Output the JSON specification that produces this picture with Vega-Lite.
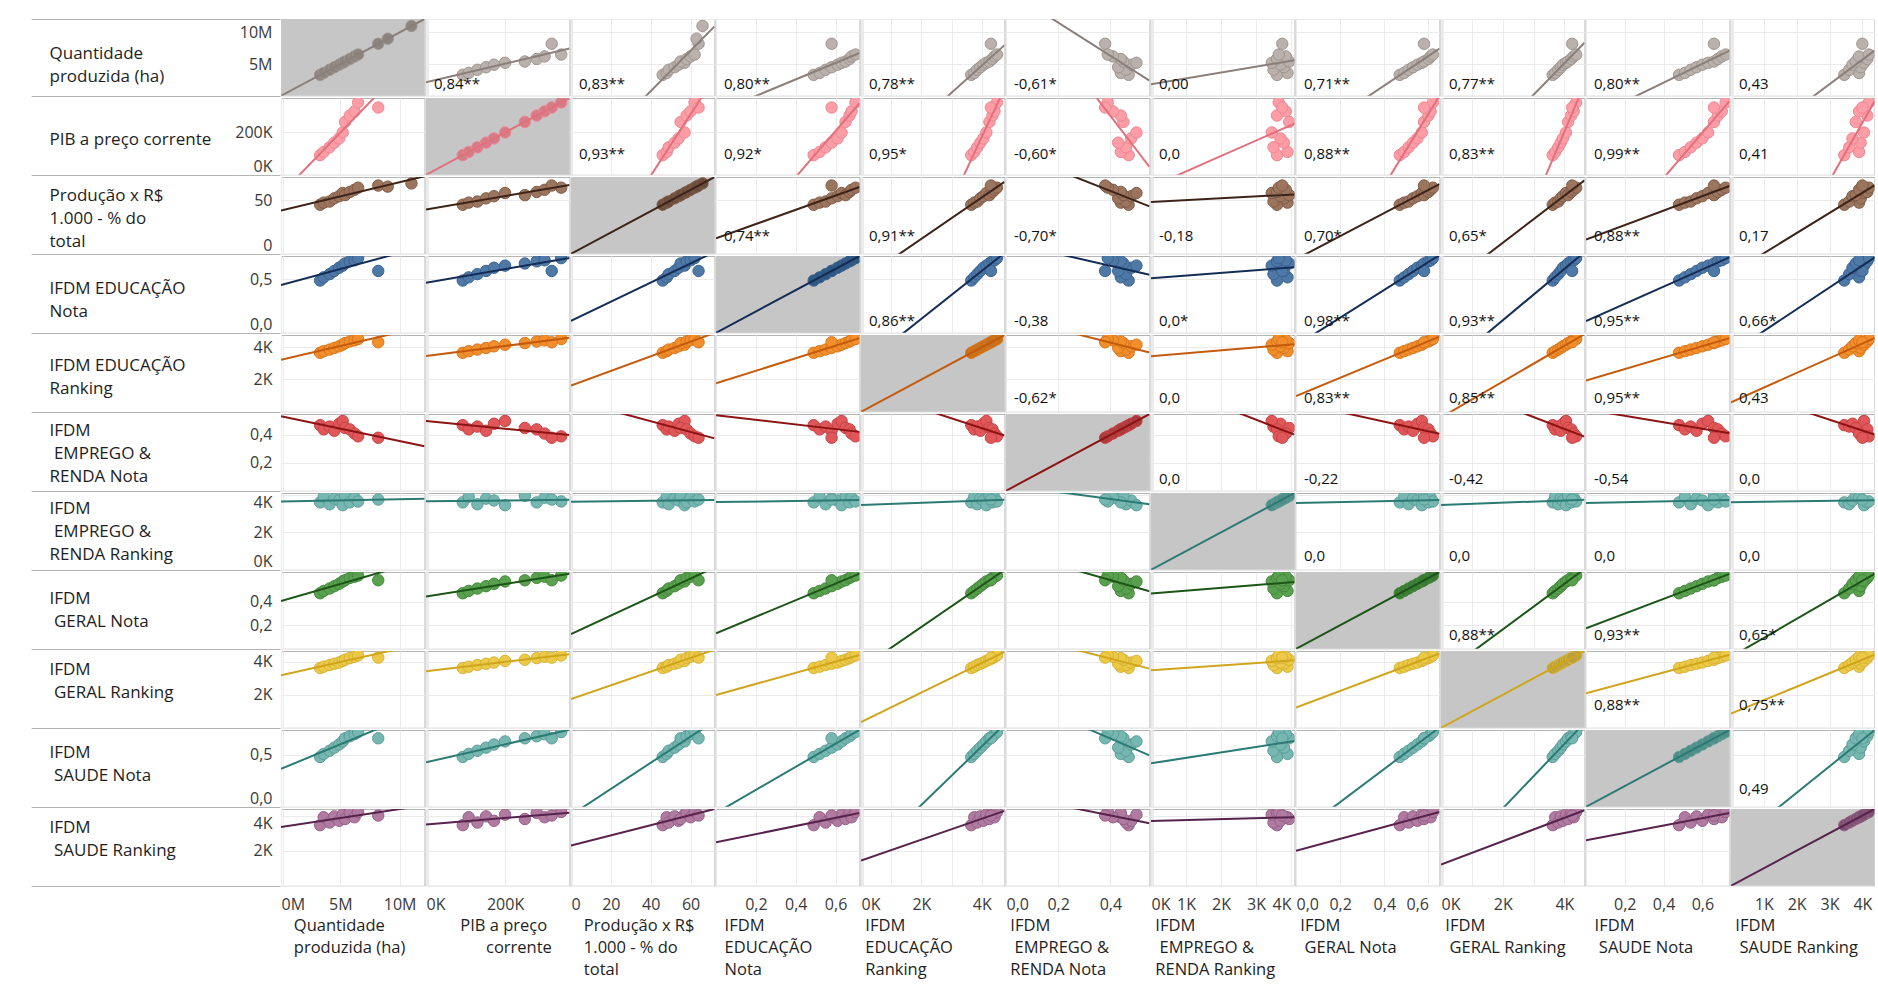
{
"$schema":"https://vega.github.io/schema/vega-lite/v6.json",
"background":"white",
"padding":{"left":30,"top":18,"right":0,"bottom":0},
"datasets":{
"d":[
{"Q":3300000,"PIB":93000,"PR":46,"EN":0.49,"ER":3650,"MN":0.47,"MR":3600,"GN":0.47,"GR":3620,"SN":0.48,"SR":3450},
{"Q":3600000,"PIB":108000,"PR":48,"EN":0.52,"ER":3750,"MN":0.44,"MR":3900,"GN":0.49,"GR":3700,"SN":0.51,"SR":3900},
{"Q":4100000,"PIB":130000,"PR":49,"EN":0.55,"ER":3850,"MN":0.46,"MR":3500,"GN":0.51,"GR":3800,"SN":0.54,"SR":3600},
{"Q":4500000,"PIB":152000,"PR":52,"EN":0.58,"ER":3950,"MN":0.43,"MR":3800,"GN":0.53,"GR":3880,"SN":0.57,"SR":3950},
{"Q":4900000,"PIB":172000,"PR":54,"EN":0.61,"ER":4050,"MN":0.48,"MR":3700,"GN":0.55,"GR":3950,"SN":0.6,"SR":3700},
{"Q":5200000,"PIB":200000,"PR":57,"EN":0.63,"ER":4150,"MN":0.5,"MR":3450,"GN":0.57,"GR":4050,"SN":0.63,"SR":4050},
{"Q":5400000,"PIB":250000,"PR":55,"EN":0.65,"ER":4250,"MN":0.45,"MR":3950,"GN":0.58,"GR":4120,"SN":0.66,"SR":3800},
{"Q":5800000,"PIB":280000,"PR":58,"EN":0.67,"ER":4350,"MN":0.44,"MR":3600,"GN":0.6,"GR":4220,"SN":0.68,"SR":4150},
{"Q":6200000,"PIB":300000,"PR":60,"EN":0.68,"ER":4420,"MN":0.41,"MR":3850,"GN":0.61,"GR":4300,"SN":0.7,"SR":3900},
{"Q":6500000,"PIB":342000,"PR":62,"EN":0.7,"ER":4500,"MN":0.39,"MR":3650,"GN":0.62,"GR":4380,"SN":0.72,"SR":4200},
{"Q":8200000,"PIB":318000,"PR":64,"EN":0.58,"ER":4300,"MN":0.38,"MR":3750,"GN":0.58,"GR":4250,"SN":0.66,"SR":4000},
{"Q":9000000,"PR":63},
{"Q":11000000,"PR":66},
{"k":"lo","Q":0},{"k":"hi","Q":12100000},
{"k":"lo","PIB":0,"L_Q":"0,84**"},{"k":"hi","PIB":363000},
{"k":"lo","PR":0,"L_Q":"0,83**","L_PIB":"0,93**"},{"k":"hi","PR":72},
{"k":"lo","EN":0,"L_Q":"0,80**","L_PIB":"0,92*","L_PR":"0,74**"},{"k":"hi","EN":0.72},
{"k":"lo","ER":0,"L_Q":"0,78**","L_PIB":"0,95*","L_PR":"0,91**","L_EN":"0,86**"},{"k":"hi","ER":4750},
{"k":"lo","MN":0,"L_Q":"-0,61*","L_PIB":"-0,60*","L_PR":"-0,70*","L_EN":"-0,38","L_ER":"-0,62*"},{"k":"hi","MN":0.55},
{"k":"lo","MR":0,"L_Q":"0,00","L_PIB":"0,0","L_PR":"-0,18","L_EN":"0,0*","L_ER":"0,0","L_MN":"0,0"},{"k":"hi","MR":4100},
{"k":"lo","GN":0,"L_Q":"0,71**","L_PIB":"0,88**","L_PR":"0,70*","L_EN":"0,98**","L_ER":"0,83**","L_MN":"-0,22","L_MR":"0,0"},{"k":"hi","GN":0.65},
{"k":"lo","GR":0,"L_Q":"0,77**","L_PIB":"0,83**","L_PR":"0,65*","L_EN":"0,93**","L_ER":"0,85**","L_MN":"-0,42","L_MR":"0,0","L_GN":"0,88**"},{"k":"hi","GR":4650},
{"k":"lo","SN":0,"L_Q":"0,80**","L_PIB":"0,99**","L_PR":"0,88**","L_EN":"0,95**","L_ER":"0,95**","L_MN":"-0,54","L_MR":"0,0","L_GN":"0,93**","L_GR":"0,88**"},{"k":"hi","SN":0.74},
{"k":"lo","SR":0,"L_Q":"0,43","L_PIB":"0,41","L_PR":"0,17","L_EN":"0,66*","L_ER":"0,43","L_MN":"0,0","L_MR":"0,0","L_GN":"0,65*","L_GR":"0,75**","L_SN":"0,49"},{"k":"hi","SR":4370}
]
},
"spacing":0,
"vconcat":[
{"data":{"name":"d"},"transform":[{"fold":["Q","PIB","PR","EN","ER","MN","MR","GN","GR","SN","SR"],"as":["c","x"]}],
"facet":{"column":{"field":"c","type":"nominal","sort":["Q","PIB","PR","EN","ER","MN","MR","GN","GR","SN","SR"],"header":{"labels":false,"title":null}}},
"spacing":0,"resolve":{"scale":{"x":"independent"}},
"spec":{"width":143.5,"height":76.8,"layer":[
{"transform":[{"filter":"datum.k=='lo'&&datum.c=='Q'&&isValid(datum.x)"}],"mark":"rect"},
{"transform":[{"filter":"datum.k==null"}],"mark":{"type":"circle","stroke":"#9f9590","clip":true},"encoding":{
"x":{"field":"x","type":"quantitative","scale":{"domainMin":-1e-9,"nice":false,"zero":false},"axis":{"title":null,"labels":false,"tickCount":100,"values":[-1e-9,0,0.2,0.4,0.6,0.7,20,40,60,1000,2000,3000,4000,4200,4450,200000,5000000,10000000],"gridColor":{"condition":{"test":"datum.value<0||datum.value==0.7||datum.value==4200||datum.value==4450","value":"transparent"},"value":"#ebebeb"}}},
"y":{"field":"Q","type":"quantitative","scale":{"domain":[0,12100000],"nice":false,"zero":false},"axis":{"tickCount":100,"values":[0,5000000,10000000,12100000],"labelExpr":"datum.value==0||datum.value>12000000?'':(datum.value/1000000)+'M'","tickColor":{"condition":{"test":"datum.value==0||datum.value>12000000","value":"#b4b4b4"},"value":"transparent"},"titleY":34,"title":["Quantidade","produzida (ha)"]}},
"fill":{"condition":{"test":"datum.c=='Q'","value":"#8d8480"},"value":"#bab0ac"}}},
{"transform":[{"regression":"Q","on":"x","groupby":["c"]}],"mark":{"type":"line","color":"#8a7f7a","clip":true},"encoding":{"x":{"field":"x","type":"quantitative"},"y":{"field":"Q","type":"quantitative"}}},
{"transform":[{"filter":"datum.k=='lo'&&isValid(datum.x)&&isValid(datum.L_Q)"}],"mark":"text","encoding":{"x":{"field":"x","type":"quantitative"},"y":{"datum":1860000,"type":"quantitative"},"text":{"field":"L_Q"}}}
]}},
{"data":{"name":"d"},"transform":[{"fold":["Q","PIB","PR","EN","ER","MN","MR","GN","GR","SN","SR"],"as":["c","x"]}],
"facet":{"column":{"field":"c","type":"nominal","sort":["Q","PIB","PR","EN","ER","MN","MR","GN","GR","SN","SR"],"header":{"labels":false,"title":null}}},
"spacing":0,"resolve":{"scale":{"x":"independent"}},
"spec":{"width":143.5,"height":76.8,"layer":[
{"transform":[{"filter":"datum.k=='lo'&&datum.c=='PIB'&&isValid(datum.x)"}],"mark":"rect"},
{"transform":[{"filter":"datum.k==null"}],"mark":{"type":"circle","stroke":"#e98792","clip":true},"encoding":{
"x":{"field":"x","type":"quantitative","scale":{"domainMin":-1e-9,"nice":false,"zero":false},"axis":{"title":null,"labels":false,"tickCount":100,"values":[-1e-9,0,0.2,0.4,0.6,0.7,20,40,60,1000,2000,3000,4000,4200,4450,200000,5000000,10000000],"gridColor":{"condition":{"test":"datum.value<0||datum.value==0.7||datum.value==4200||datum.value==4450","value":"transparent"},"value":"#ebebeb"}}},
"y":{"field":"PIB","type":"quantitative","scale":{"domain":[0,363000],"nice":false,"zero":false},"axis":{"tickCount":100,"values":[0,200000],"labelExpr":"(datum.value/1000)+'K'","tickColor":{"condition":{"test":"datum.value==0","value":"#b4b4b4"},"value":"transparent"},"titleY":41,"title":["PIB a preço corrente"]}},
"fill":{"condition":{"test":"datum.c=='PIB'","value":"#d77b86"},"value":"#ff9da7"}}},
{"transform":[{"regression":"PIB","on":"x","groupby":["c"]}],"mark":{"type":"line","color":"#e0707c","clip":true},"encoding":{"x":{"field":"x","type":"quantitative"},"y":{"field":"PIB","type":"quantitative"}}},
{"transform":[{"filter":"datum.k=='lo'&&isValid(datum.x)&&isValid(datum.L_PIB)"}],"mark":"text","encoding":{"x":{"field":"x","type":"quantitative"},"y":{"datum":100000,"type":"quantitative"},"text":{"field":"L_PIB"}}}
]}},
{"data":{"name":"d"},"transform":[{"fold":["Q","PIB","PR","EN","ER","MN","MR","GN","GR","SN","SR"],"as":["c","x"]}],
"facet":{"column":{"field":"c","type":"nominal","sort":["Q","PIB","PR","EN","ER","MN","MR","GN","GR","SN","SR"],"header":{"labels":false,"title":null}}},
"spacing":0,"resolve":{"scale":{"x":"independent"}},
"spec":{"width":143.5,"height":76.8,"layer":[
{"transform":[{"filter":"datum.k=='lo'&&datum.c=='PR'&&isValid(datum.x)"}],"mark":"rect"},
{"transform":[{"filter":"datum.k==null"}],"mark":{"type":"circle","stroke":"#7f5c48","clip":true},"encoding":{
"x":{"field":"x","type":"quantitative","scale":{"domainMin":-1e-9,"nice":false,"zero":false},"axis":{"title":null,"labels":false,"tickCount":100,"values":[-1e-9,0,0.2,0.4,0.6,0.7,20,40,60,1000,2000,3000,4000,4200,4450,200000,5000000,10000000],"gridColor":{"condition":{"test":"datum.value<0||datum.value==0.7||datum.value==4200||datum.value==4450","value":"transparent"},"value":"#ebebeb"}}},
"y":{"field":"PR","type":"quantitative","scale":{"domain":[0,72],"nice":false,"zero":false},"axis":{"tickCount":100,"values":[0,50],"tickColor":{"condition":{"test":"datum.value==0","value":"#b4b4b4"},"value":"transparent"},"titleY":18.5,"title":["Produção x R$","1.000 - % do","total"]}},
"fill":{"condition":{"test":"datum.c=='PR'","value":"#6a4d3c"},"value":"#9c755f"}}},
{"transform":[{"regression":"PR","on":"x","groupby":["c"]}],"mark":{"type":"line","color":"#3e2418","clip":true},"encoding":{"x":{"field":"x","type":"quantitative"},"y":{"field":"PR","type":"quantitative"}}},
{"transform":[{"filter":"datum.k=='lo'&&isValid(datum.x)&&isValid(datum.L_PR)"}],"mark":"text","encoding":{"x":{"field":"x","type":"quantitative"},"y":{"datum":16.6,"type":"quantitative"},"text":{"field":"L_PR"}}}
]}},
{"data":{"name":"d"},"transform":[{"fold":["Q","PIB","PR","EN","ER","MN","MR","GN","GR","SN","SR"],"as":["c","x"]}],
"facet":{"column":{"field":"c","type":"nominal","sort":["Q","PIB","PR","EN","ER","MN","MR","GN","GR","SN","SR"],"header":{"labels":false,"title":null}}},
"spacing":0,"resolve":{"scale":{"x":"independent"}},
"spec":{"width":143.5,"height":76.8,"layer":[
{"transform":[{"filter":"datum.k=='lo'&&datum.c=='EN'&&isValid(datum.x)"}],"mark":"rect"},
{"transform":[{"filter":"datum.k==null"}],"mark":{"type":"circle","stroke":"#3b6290","clip":true},"encoding":{
"x":{"field":"x","type":"quantitative","scale":{"domainMin":-1e-9,"nice":false,"zero":false},"axis":{"title":null,"labels":false,"tickCount":100,"values":[-1e-9,0,0.2,0.4,0.6,0.7,20,40,60,1000,2000,3000,4000,4200,4450,200000,5000000,10000000],"gridColor":{"condition":{"test":"datum.value<0||datum.value==0.7||datum.value==4200||datum.value==4450","value":"transparent"},"value":"#ebebeb"}}},
"y":{"field":"EN","type":"quantitative","scale":{"domain":[0,0.72],"nice":false,"zero":false},"axis":{"tickCount":100,"values":[0,0.5],"labelExpr":"replace(format(datum.value,'.1f'),'.',',')","tickColor":{"condition":{"test":"datum.value==0","value":"#b4b4b4"},"value":"transparent"},"titleY":32.7,"title":["IFDM EDUCAÇÃO","Nota"]}},
"fill":{"condition":{"test":"datum.c=='EN'","value":"#2e5782"},"value":"#4e79a7"}}},
{"transform":[{"regression":"EN","on":"x","groupby":["c"]}],"mark":{"type":"line","color":"#142d56","clip":true},"encoding":{"x":{"field":"x","type":"quantitative"},"y":{"field":"EN","type":"quantitative"}}},
{"transform":[{"filter":"datum.k=='lo'&&isValid(datum.x)&&isValid(datum.L_EN)"}],"mark":"text","encoding":{"x":{"field":"x","type":"quantitative"},"y":{"datum":0.11,"type":"quantitative"},"text":{"field":"L_EN"}}}
]}},
{"data":{"name":"d"},"transform":[{"fold":["Q","PIB","PR","EN","ER","MN","MR","GN","GR","SN","SR"],"as":["c","x"]}],
"facet":{"column":{"field":"c","type":"nominal","sort":["Q","PIB","PR","EN","ER","MN","MR","GN","GR","SN","SR"],"header":{"labels":false,"title":null}}},
"spacing":0,"resolve":{"scale":{"x":"independent"}},
"spec":{"width":143.5,"height":76.8,"layer":[
{"transform":[{"filter":"datum.k=='lo'&&datum.c=='ER'&&isValid(datum.x)"}],"mark":"rect"},
{"transform":[{"filter":"datum.k==null"}],"mark":{"type":"circle","stroke":"#d9761b","clip":true},"encoding":{
"x":{"field":"x","type":"quantitative","scale":{"domainMin":-1e-9,"nice":false,"zero":false},"axis":{"title":null,"labels":false,"tickCount":100,"values":[-1e-9,0,0.2,0.4,0.6,0.7,20,40,60,1000,2000,3000,4000,4200,4450,200000,5000000,10000000],"gridColor":{"condition":{"test":"datum.value<0||datum.value==0.7||datum.value==4200||datum.value==4450","value":"transparent"},"value":"#ebebeb"}}},
"y":{"field":"ER","type":"quantitative","scale":{"domain":[0,4750],"nice":false,"zero":false},"axis":{"tickCount":100,"values":[0,2000,4000],"labelExpr":"datum.value==0?'':(datum.value/1000)+'K'","tickColor":{"condition":{"test":"datum.value==0","value":"#b4b4b4"},"value":"transparent"},"titleY":30.3,"title":["IFDM EDUCAÇÃO","Ranking"]}},
"fill":{"condition":{"test":"datum.c=='ER'","value":"#c4701c"},"value":"#f28e2b"}}},
{"transform":[{"regression":"ER","on":"x","groupby":["c"]}],"mark":{"type":"line","color":"#c45a0c","clip":true},"encoding":{"x":{"field":"x","type":"quantitative"},"y":{"field":"ER","type":"quantitative"}}},
{"transform":[{"filter":"datum.k=='lo'&&isValid(datum.x)&&isValid(datum.L_ER)"}],"mark":"text","encoding":{"x":{"field":"x","type":"quantitative"},"y":{"datum":877,"type":"quantitative"},"text":{"field":"L_ER"}}}
]}},
{"data":{"name":"d"},"transform":[{"fold":["Q","PIB","PR","EN","ER","MN","MR","GN","GR","SN","SR"],"as":["c","x"]}],
"facet":{"column":{"field":"c","type":"nominal","sort":["Q","PIB","PR","EN","ER","MN","MR","GN","GR","SN","SR"],"header":{"labels":false,"title":null}}},
"spacing":0,"resolve":{"scale":{"x":"independent"}},
"spec":{"width":143.5,"height":76.8,"layer":[
{"transform":[{"filter":"datum.k=='lo'&&datum.c=='MN'&&isValid(datum.x)"}],"mark":"rect"},
{"transform":[{"filter":"datum.k==null"}],"mark":{"type":"circle","stroke":"#c74244","clip":true},"encoding":{
"x":{"field":"x","type":"quantitative","scale":{"domainMin":-1e-9,"nice":false,"zero":false},"axis":{"title":null,"labels":false,"tickCount":100,"values":[-1e-9,0,0.2,0.4,0.6,0.7,20,40,60,1000,2000,3000,4000,4200,4450,200000,5000000,10000000],"gridColor":{"condition":{"test":"datum.value<0||datum.value==0.7||datum.value==4200||datum.value==4450","value":"transparent"},"value":"#ebebeb"}}},
"y":{"field":"MN","type":"quantitative","scale":{"domain":[0,0.55],"nice":false,"zero":false},"axis":{"tickCount":100,"values":[0,0.2,0.4],"labelExpr":"datum.value==0?'':replace(format(datum.value,'.1f'),'.',',')","tickColor":{"condition":{"test":"datum.value==0","value":"#b4b4b4"},"value":"transparent"},"titleY":16.6,"title":["IFDM","\u200b\u00a0EMPREGO &","RENDA Nota"]}},
"fill":{"condition":{"test":"datum.c=='MN'","value":"#ad3a3c"},"value":"#e15759"}}},
{"transform":[{"regression":"MN","on":"x","groupby":["c"]}],"mark":{"type":"line","color":"#8c1414","clip":true},"encoding":{"x":{"field":"x","type":"quantitative"},"y":{"field":"MN","type":"quantitative"}}},
{"transform":[{"filter":"datum.k=='lo'&&isValid(datum.x)&&isValid(datum.L_MN)"}],"mark":"text","encoding":{"x":{"field":"x","type":"quantitative"},"y":{"datum":0.085,"type":"quantitative"},"text":{"field":"L_MN"}}}
]}},
{"data":{"name":"d"},"transform":[{"fold":["Q","PIB","PR","EN","ER","MN","MR","GN","GR","SN","SR"],"as":["c","x"]}],
"facet":{"column":{"field":"c","type":"nominal","sort":["Q","PIB","PR","EN","ER","MN","MR","GN","GR","SN","SR"],"header":{"labels":false,"title":null}}},
"spacing":0,"resolve":{"scale":{"x":"independent"}},
"spec":{"width":143.5,"height":76.8,"layer":[
{"transform":[{"filter":"datum.k=='lo'&&datum.c=='MR'&&isValid(datum.x)"}],"mark":"rect"},
{"transform":[{"filter":"datum.k==null"}],"mark":{"type":"circle","stroke":"#5c9d98","clip":true},"encoding":{
"x":{"field":"x","type":"quantitative","scale":{"domainMin":-1e-9,"nice":false,"zero":false},"axis":{"title":null,"labels":false,"tickCount":100,"values":[-1e-9,0,0.2,0.4,0.6,0.7,20,40,60,1000,2000,3000,4000,4200,4450,200000,5000000,10000000],"gridColor":{"condition":{"test":"datum.value<0||datum.value==0.7||datum.value==4200||datum.value==4450","value":"transparent"},"value":"#ebebeb"}}},
"y":{"field":"MR","type":"quantitative","scale":{"domain":[0,4100],"nice":false,"zero":false},"axis":{"tickCount":100,"values":[0,2000,4000],"labelExpr":"(datum.value/1000)+'K'","tickColor":{"condition":{"test":"datum.value==0","value":"#b4b4b4"},"value":"transparent"},"titleY":15.1,"title":["IFDM","\u200b\u00a0EMPREGO &","RENDA Ranking"]}},
"fill":{"condition":{"test":"datum.c=='MR'","value":"#4f8e89"},"value":"#76b7b2"}}},
{"transform":[{"regression":"MR","on":"x","groupby":["c"]}],"mark":{"type":"line","color":"#2c7a74","clip":true},"encoding":{"x":{"field":"x","type":"quantitative"},"y":{"field":"MR","type":"quantitative"}}},
{"transform":[{"filter":"datum.k=='lo'&&isValid(datum.x)&&isValid(datum.L_MR)"}],"mark":"text","encoding":{"x":{"field":"x","type":"quantitative"},"y":{"datum":745,"type":"quantitative"},"text":{"field":"L_MR"}}}
]}},
{"data":{"name":"d"},"transform":[{"fold":["Q","PIB","PR","EN","ER","MN","MR","GN","GR","SN","SR"],"as":["c","x"]}],
"facet":{"column":{"field":"c","type":"nominal","sort":["Q","PIB","PR","EN","ER","MN","MR","GN","GR","SN","SR"],"header":{"labels":false,"title":null}}},
"spacing":0,"resolve":{"scale":{"x":"independent"}},
"spec":{"width":143.5,"height":76.8,"layer":[
{"transform":[{"filter":"datum.k=='lo'&&datum.c=='GN'&&isValid(datum.x)"}],"mark":"rect"},
{"transform":[{"filter":"datum.k==null"}],"mark":{"type":"circle","stroke":"#45883c","clip":true},"encoding":{
"x":{"field":"x","type":"quantitative","scale":{"domainMin":-1e-9,"nice":false,"zero":false},"axis":{"title":null,"labels":false,"tickCount":100,"values":[-1e-9,0,0.2,0.4,0.6,0.7,20,40,60,1000,2000,3000,4000,4200,4450,200000,5000000,10000000],"gridColor":{"condition":{"test":"datum.value<0||datum.value==0.7||datum.value==4200||datum.value==4450","value":"transparent"},"value":"#ebebeb"}}},
"y":{"field":"GN","type":"quantitative","scale":{"domain":[0,0.65],"nice":false,"zero":false},"axis":{"tickCount":100,"values":[0,0.2,0.4],"labelExpr":"datum.value==0?'':replace(format(datum.value,'.1f'),'.',',')","tickColor":{"condition":{"test":"datum.value==0","value":"#b4b4b4"},"value":"transparent"},"titleY":26.8,"title":["IFDM","\u200b\u00a0GERAL Nota"]}},
"fill":{"condition":{"test":"datum.c=='GN'","value":"#3b7a33"},"value":"#59a14f"}}},
{"transform":[{"regression":"GN","on":"x","groupby":["c"]}],"mark":{"type":"line","color":"#1c5518","clip":true},"encoding":{"x":{"field":"x","type":"quantitative"},"y":{"field":"GN","type":"quantitative"}}},
{"transform":[{"filter":"datum.k=='lo'&&isValid(datum.x)&&isValid(datum.L_GN)"}],"mark":"text","encoding":{"x":{"field":"x","type":"quantitative"},"y":{"datum":0.12,"type":"quantitative"},"text":{"field":"L_GN"}}}
]}},
{"data":{"name":"d"},"transform":[{"fold":["Q","PIB","PR","EN","ER","MN","MR","GN","GR","SN","SR"],"as":["c","x"]}],
"facet":{"column":{"field":"c","type":"nominal","sort":["Q","PIB","PR","EN","ER","MN","MR","GN","GR","SN","SR"],"header":{"labels":false,"title":null}}},
"spacing":0,"resolve":{"scale":{"x":"independent"}},
"spec":{"width":143.5,"height":76.8,"layer":[
{"transform":[{"filter":"datum.k=='lo'&&datum.c=='GR'&&isValid(datum.x)"}],"mark":"rect"},
{"transform":[{"filter":"datum.k==null"}],"mark":{"type":"circle","stroke":"#d6b235","clip":true},"encoding":{
"x":{"field":"x","type":"quantitative","scale":{"domainMin":-1e-9,"nice":false,"zero":false},"axis":{"title":null,"labels":false,"tickCount":100,"values":[-1e-9,0,0.2,0.4,0.6,0.7,20,40,60,1000,2000,3000,4000,4200,4450,200000,5000000,10000000],"gridColor":{"condition":{"test":"datum.value<0||datum.value==0.7||datum.value==4200||datum.value==4450","value":"transparent"},"value":"#ebebeb"}}},
"y":{"field":"GR","type":"quantitative","scale":{"domain":[0,4650],"nice":false,"zero":false},"axis":{"tickCount":100,"values":[0,2000,4000],"labelExpr":"datum.value==0?'':(datum.value/1000)+'K'","tickColor":{"condition":{"test":"datum.value==0","value":"#b4b4b4"},"value":"transparent"},"titleY":18.5,"title":["IFDM","\u200b\u00a0GERAL Ranking"]}},
"fill":{"condition":{"test":"datum.c=='GR'","value":"#b9a03c"},"value":"#edc948"}}},
{"transform":[{"regression":"GR","on":"x","groupby":["c"]}],"mark":{"type":"line","color":"#cfa51c","clip":true},"encoding":{"x":{"field":"x","type":"quantitative"},"y":{"field":"GR","type":"quantitative"}}},
{"transform":[{"filter":"datum.k=='lo'&&isValid(datum.x)&&isValid(datum.L_GR)"}],"mark":"text","encoding":{"x":{"field":"x","type":"quantitative"},"y":{"datum":1409,"type":"quantitative"},"text":{"field":"L_GR"}}}
]}},
{"data":{"name":"d"},"transform":[{"fold":["Q","PIB","PR","EN","ER","MN","MR","GN","GR","SN","SR"],"as":["c","x"]}],
"facet":{"column":{"field":"c","type":"nominal","sort":["Q","PIB","PR","EN","ER","MN","MR","GN","GR","SN","SR"],"header":{"labels":false,"title":null}}},
"spacing":0,"resolve":{"scale":{"x":"independent"}},
"spec":{"width":143.5,"height":76.8,"layer":[
{"transform":[{"filter":"datum.k=='lo'&&datum.c=='SN'&&isValid(datum.x)"}],"mark":"rect"},
{"transform":[{"filter":"datum.k==null"}],"mark":{"type":"circle","stroke":"#5c9d98","clip":true},"encoding":{
"x":{"field":"x","type":"quantitative","scale":{"domainMin":-1e-9,"nice":false,"zero":false},"axis":{"title":null,"labels":false,"tickCount":100,"values":[-1e-9,0,0.2,0.4,0.6,0.7,20,40,60,1000,2000,3000,4000,4200,4450,200000,5000000,10000000],"gridColor":{"condition":{"test":"datum.value<0||datum.value==0.7||datum.value==4200||datum.value==4450","value":"transparent"},"value":"#ebebeb"}}},
"y":{"field":"SN","type":"quantitative","scale":{"domain":[0,0.74],"nice":false,"zero":false},"axis":{"tickCount":100,"values":[0,0.5],"labelExpr":"replace(format(datum.value,'.1f'),'.',',')","tickColor":{"condition":{"test":"datum.value==0","value":"#b4b4b4"},"value":"transparent"},"titleY":22.4,"title":["IFDM","\u200b\u00a0SAUDE Nota"]}},
"fill":{"condition":{"test":"datum.c=='SN'","value":"#4f8e89"},"value":"#76b7b2"}}},
{"transform":[{"regression":"SN","on":"x","groupby":["c"]}],"mark":{"type":"line","color":"#2c7a74","clip":true},"encoding":{"x":{"field":"x","type":"quantitative"},"y":{"field":"SN","type":"quantitative"}}},
{"transform":[{"filter":"datum.k=='lo'&&isValid(datum.x)&&isValid(datum.L_SN)"}],"mark":"text","encoding":{"x":{"field":"x","type":"quantitative"},"y":{"datum":0.17,"type":"quantitative"},"text":{"field":"L_SN"}}}
]}},
{"data":{"name":"d"},"transform":[{"fold":["Q","PIB","PR","EN","ER","MN","MR","GN","GR","SN","SR"],"as":["c","x"]}],
"facet":{"column":{"field":"c","type":"nominal","sort":["Q","PIB","PR","EN","ER","MN","MR","GN","GR","SN","SR"],"header":{"labels":true,"title":null,"labelOrient":"bottom","labelAnchor":"start","labelAlign":"left","labelBaseline":"top","labelPadding":4,"labelLineHeight":22,"labelFontSize":16.5,"labelFont":"Open Sans","labelColor":"#1e1e1e",
"labelExpr":"{'Q':['\u200b\u00a0\u00a0\u00a0Quantidade','\u200b\u00a0\u00a0\u00a0produzida (ha)'],'PIB':['\u200b\u00a0\u00a0\u00a0\u00a0\u00a0\u00a0\u00a0\u00a0PIB a preço','\u200b\u00a0\u00a0\u00a0\u00a0\u00a0\u00a0\u00a0\u00a0\u00a0\u00a0\u00a0\u00a0\u00a0\u00a0corrente'],'PR':['\u200b\u00a0\u00a0\u00a0Produção x R$','\u200b\u00a0\u00a0\u00a01.000 - % do','\u200b\u00a0\u00a0\u00a0total'],'EN':['\u200b\u00a0\u00a0IFDM','\u200b\u00a0\u00a0EDUCAÇÃO','\u200b\u00a0\u00a0Nota'],'ER':['\u200b\u00a0IFDM','\u200b\u00a0EDUCAÇÃO','\u200b\u00a0Ranking'],'MN':['\u200b\u00a0IFDM','\u200b\u00a0\u00a0EMPREGO &','\u200b\u00a0RENDA Nota'],'MR':['\u200b\u00a0IFDM','\u200b\u00a0\u00a0EMPREGO &','\u200b\u00a0RENDA Ranking'],'GN':['\u200b\u00a0IFDM','\u200b\u00a0\u00a0GERAL Nota'],'GR':['\u200b\u00a0IFDM','\u200b\u00a0\u00a0GERAL Ranking'],'SN':['\u200b\u00a0\u00a0IFDM','\u200b\u00a0\u00a0\u00a0SAUDE Nota'],'SR':['\u200b\u00a0IFDM','\u200b\u00a0\u00a0SAUDE Ranking']}[datum.value]"}}},
"spacing":0,"resolve":{"scale":{"x":"independent"}},
"spec":{"width":143.5,"height":76.8,"layer":[
{"transform":[{"filter":"datum.k=='lo'&&datum.c=='SR'&&isValid(datum.x)"}],"mark":"rect"},
{"transform":[{"filter":"datum.k==null"}],"mark":{"type":"circle","stroke":"#946087","clip":true},"encoding":{
"x":{"field":"x","type":"quantitative","scale":{"domainMin":-1e-9,"nice":false,"zero":false},"axis":{"title":null,"labels":true,"labelPadding":11,"labelOverlap":false,"labelFlush":12,"tickCount":100,"values":[-1e-9,0,0.2,0.4,0.6,0.7,20,40,60,1000,2000,3000,4000,4200,4450,200000,5000000,10000000],"gridColor":{"condition":{"test":"datum.value<0||datum.value==0.7||datum.value==4200||datum.value==4450","value":"transparent"},"value":"#ebebeb"},
"labelExpr":"datum.index==0?'':({'18_0':'0M','18_5000000':'5M','18_10000000':'10M','16_0':'0K','16_200000':'200K','9_0':'0','9_20':'20','9_40':'40','9_60':'60','6_0.2':'0,2','6_0.4':'0,4','6_0.6':'0,6','5_0':'0,0','5_0.2':'0,2','5_0.4':'0,4','5_0.6':'0,6','4_0':'0,0','4_0.2':'0,2','4_0.4':'0,4','13_0':'0K','13_1000':'1K','13_2000':'2K','13_3000':'3K','13_4000':'4K','14_1000':'1K','14_2000':'2K','14_3000':'3K','14_4000':'4K','15_0':'0K','15_2000':'2K','15_4000':'4K'}[(round(indexof([-1e-9,0,0.2,0.4,0.6,0.7,20,40,60,1000,2000,3000,4000,4200,4450,200000,5000000,10000000],datum.value)/datum.index)+1)+'_'+datum.value]||'')"}},
"y":{"field":"SR","type":"quantitative","scale":{"domain":[0,4370],"nice":false,"zero":false},"axis":{"tickCount":100,"values":[0,2000,4000],"labelExpr":"datum.value==0?'':(datum.value/1000)+'K'","tickColor":{"condition":{"test":"datum.value==0","value":"#b4b4b4"},"value":"transparent"},"titleY":18.5,"title":["IFDM","\u200b\u00a0SAUDE Ranking"]}},
"fill":{"condition":{"test":"datum.c=='SR'","value":"#7e4f70"},"value":"#b07aa1"}}},
{"transform":[{"regression":"SR","on":"x","groupby":["c"]}],"mark":{"type":"line","color":"#57234d","clip":true},"encoding":{"x":{"field":"x","type":"quantitative"},"y":{"field":"SR","type":"quantitative"}}}
]}}
],
"config":{
"font":"Open Sans",
"view":{"stroke":"#b4b4b4","strokeWidth":1},
"concat":{"spacing":0},
"facet":{"spacing":0},
"axis":{"ticks":false,"domain":false,"labelFont":"Open Sans","labelFontSize":16,"labelColor":"#3a3a3a","gridColor":"#ebebeb","gridWidth":1,"titleFont":"Open Sans","titleFontSize":17,"titleFontWeight":"normal","titleColor":"#1e1e1e"},
"axisY":{"grid":true,"ticks":true,"tickSize":249,"tickWidth":1,"titleAngle":0,"titleAlign":"left","titleBaseline":"middle","titleX":-231,"titleLineHeight":23,"labelPadding":-241,"labelFlush":8,"labelOverlap":false},
"axisX":{"grid":true},
"circle":{"size":130,"strokeWidth":1,"opacity":1},
"line":{"strokeWidth":2},
"rect":{"color":"#c6c6c6"},
"text":{"font":"Open Sans","fontSize":15,"align":"left","baseline":"middle","dx":8,"color":"#111111"}
}
}
